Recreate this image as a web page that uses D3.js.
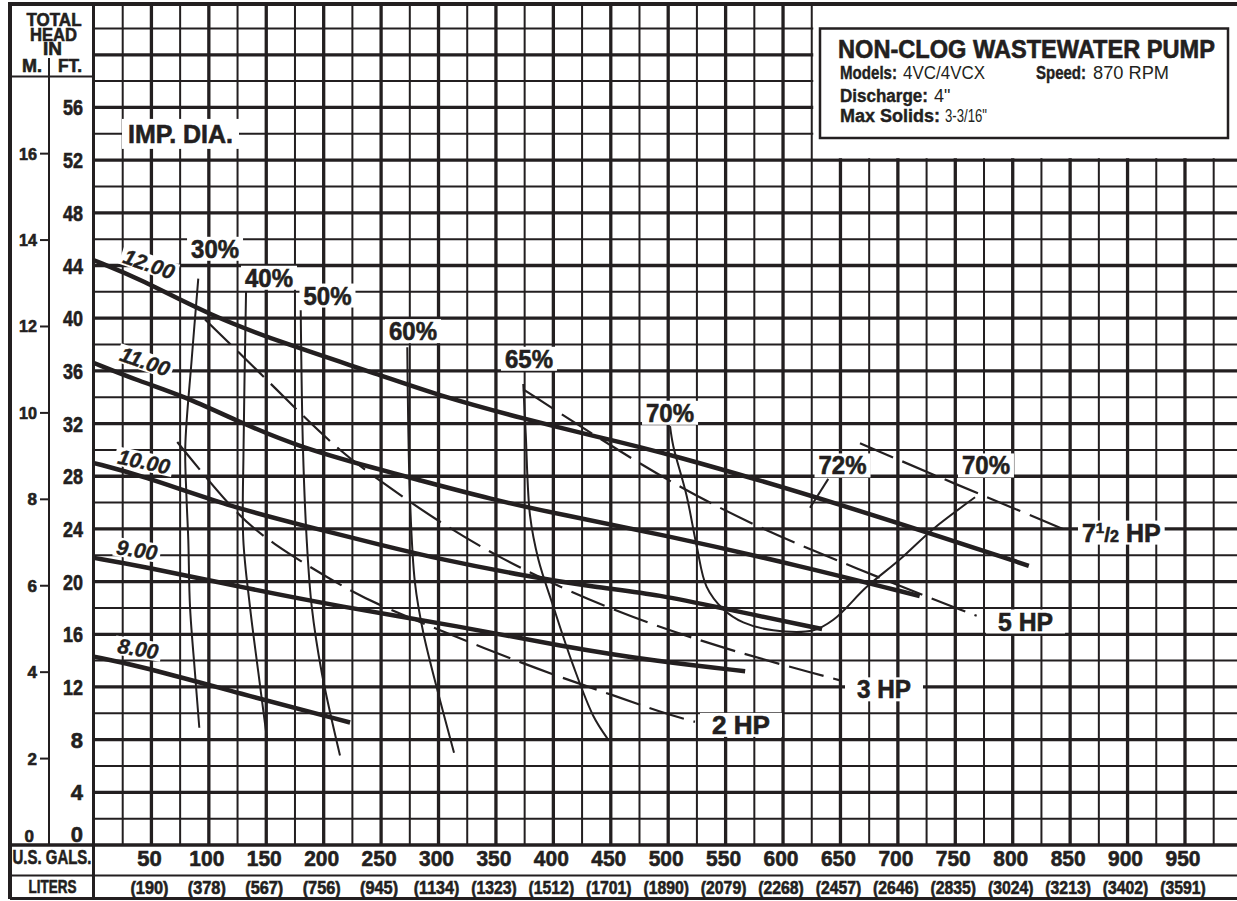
<!DOCTYPE html>
<html>
<head>
<meta charset="utf-8">
<script src="https://cdn.jsdelivr.net/npm/d3@7"></script>
<style>
  body { margin: 0; background: #fff; }
  svg { display: block; font-family: "Liberation Sans", Arial, Helvetica, sans-serif; }
</style>
</head>
<body>
<div id="chart"></div>
<script>
// values: flow in US gallons per minute, head in feet
const galTicks = [50, 100, 150, 200, 250, 300, 350, 400, 450, 500, 550, 600, 650, 700, 750, 800, 850, 900, 950];
const literLabels = ["(190)", "(378)", "(567)", "(756)", "(945)", "(1134)", "(1323)", "(1512)", "(1701)", "(1890)",
  "(2079)", "(2268)", "(2457)", "(2646)", "(2835)", "(3024)", "(3213)", "(3402)", "(3591)"];
const ftTicks = [0, 4, 8, 12, 16, 20, 24, 28, 32, 36, 40, 44, 48, 52, 56];
const meterTicks = [0, 2, 4, 6, 8, 10, 12, 14, 16];

// impeller diameter curves
const imp12 = [[0, 44.4], [40, 43.0], [101, 40.2], [168, 38.0], [249, 35.7], [301, 34.1], [377, 32.3], [435, 31.05], [493, 29.9], [650, 25.9], [814, 21.2]];
const imp11 = [[0, 36.6], [40, 35.2], [78, 34.1], [127, 32.1], [179, 30.2], [249, 28.5], [275, 27.9], [348, 26.2], [406, 25.1], [493, 23.6], [615, 21.2], [719, 18.9]];
const imp10 = [[0, 29.0], [40, 28.1], [118, 25.7], [185, 24.2], [249, 22.8], [301, 21.7], [377, 20.4], [435, 19.6], [493, 19.0], [551, 17.9], [634, 16.4]];
const imp9 = [[0, 21.8], [40, 21.2], [127, 19.6], [214, 18.1], [319, 16.6], [406, 15.1], [493, 13.9], [567, 13.2]];
const imp8 = [[0, 14.3], [40, 13.6], [127, 11.5], [223, 9.3]];
const impNames = ["12.00", "11.00", "10.00", "9.00", "8.00"];

// efficiency curves
const eff30 = [[90.8, 43.0], [85.1, 36.9], [79.5, 30.3], [80.5, 26.5], [82.1, 23.2], [83.6, 18.1], [87.9, 13.1], [91.7, 8.9]];
const eff40 = [[132.4, 42.0], [130.2, 30.0], [130.0, 23.2], [135.8, 18.1], [143.1, 13.1], [150.6, 8.1]];
const eff50 = [[180, 40.6], [182, 30.0], [185.2, 23.2], [189.6, 18.1], [198.3, 13.1], [214.2, 6.8]];
const eff60 = [[272.8, 37.8], [275.2, 26.2], [279.5, 19.9], [286.8, 16.1], [301.3, 11.0], [313.5, 7.0]];
const eff65 = [[373.8, 35.0], [375.9, 31.3], [379.7, 25.0], [386.9, 21.7], [400, 18.1], [417.4, 13.6], [434.8, 9.8], [447, 8.1]];
const eff70 = [[501.6, 31.8], [504.4, 30.3], [516.1, 26.5], [524.8, 22.7], [533.5, 19.6], [548, 17.9], [565.4, 16.9], [591.5, 16.3],
  [626.4, 16.3], [643.8, 17.1], [672.9, 19.6], [701.9, 21.7], [730.8, 24.0], [767.2, 26.4]];
const eff72 = [[639.4, 27.8], [623.5, 25.6]];
const effNames = ["30%", "40%", "50%", "60%", "65%", "70%", "72%", "70%"];

// horsepower lines (dashed)
const hp2 = [[72.5, 30.6], [119.9, 25.5], [150.4, 23.1], [225.8, 19.1], [262.1, 17.7], [376.8, 13.6], [458, 11.2], [492.9, 10.1], [523.3, 9.35]];
const hp3 = [[96.7, 39.9], [147.4, 35.6], [177, 33.0], [214.2, 29.9], [246.2, 27.8], [343.4, 21.9], [492.9, 16.2], [649.6, 12.5]];
const hp5 = [[373.8, 34.6], [439.1, 30.9], [510.3, 27.1], [585.8, 23.8], [664.1, 21.0], [741, 18.3], [768.6, 17.4]];
const hp75 = [[667, 30.5], [736.7, 27.9], [813.6, 25.1], [851.4, 23.7]];
const hpNames = ["2 HP", "3 HP", "5 HP"];

const W = 1237, H = 901;
const ink = "#231f20";
const FT_PER_M = 3.28084;

const x = d3.scaleLinear().domain([0, 1000]).range([94, 1242.4]);
const y = d3.scaleLinear().domain([0, 64]).range([845, 2.1]);

const svg = d3.select("#chart").append("svg")
  .attr("width", W)
  .attr("height", H);

svg.append("rect").attr("width", W).attr("height", H).attr("fill", "#fff");

// heavy condensed look: bold + thin outline, squeezed to the measured width
function heavy(sel, len) {
  sel.attr("stroke", ink).attr("stroke-width", 0.6);
  if (len) sel.attr("textLength", len).attr("lengthAdjust", "spacingAndGlyphs");
  return sel;
}

function drawGrid() {
  const g = svg.append("g").attr("stroke", ink);
  g.selectAll("line.v")
    .data(d3.range(25, 1000, 25))
    .join("line")
    .attr("class", "v")
    .attr("x1", d => x(d)).attr("x2", d => x(d))
    .attr("y1", 4).attr("y2", 845)
    .attr("stroke-width", d => d % 50 === 0 ? 3.3 : 2);
  g.selectAll("line.h")
    .data(d3.range(2, 64, 2))
    .join("line")
    .attr("class", "h")
    .attr("x1", 93).attr("x2", W)
    .attr("y1", d => y(d)).attr("y2", d => y(d))
    .attr("stroke-width", d => d % 4 === 0 ? 3.3 : 2);

  // blank corner behind the title box
  svg.append("rect")
    .attr("x", x(625) + 1.5).attr("y", 6)
    .attr("width", W - x(625)).attr("height", y(52) - 8)
    .attr("fill", "#fff");
}

function drawFrame() {
  const g = svg.append("g").attr("stroke", ink).attr("fill", "none");
  const seg = (x1, y1, x2, y2, w) => g.append("line")
    .attr("x1", x1).attr("y1", y1).attr("x2", x2).attr("y2", y2).attr("stroke-width", w);
  seg(10, 4, W, 4, 4);          // top border
  seg(10, 2, 10, 899, 4);       // left border
  seg(10, 898.5, W, 898.5, 3);  // bottom border
  seg(93.5, 2, 93.5, 899, 3);   // axis column edge
  seg(49, 58, 49, 845, 2);      // M. / FT. split
  seg(10, 76.5, 93, 76.5, 2);   // header box
  seg(10, 845, W, 845, 3.3);    // zero line
  seg(10, 875.5, W, 875.5, 2);  // gallons / liters split
}

function drawAxes() {
  const g = svg.append("g").attr("fill", ink).attr("font-weight", "bold");

  // header
  const head = g.append("g").attr("text-anchor", "middle").attr("font-size", 18);
  heavy(head.append("text").attr("x", 54).attr("y", 26), 55).text("TOTAL");
  heavy(head.append("text").attr("x", 53.5).attr("y", 40.5), 47).text("HEAD");
  heavy(head.append("text").attr("x", 52.5).attr("y", 55), 19).text("IN");
  heavy(head.append("text").attr("x", 32).attr("y", 71.5), 20).text("M.");
  heavy(head.append("text").attr("x", 70).attr("y", 71.5), 24).text("FT.");

  // feet
  g.append("g").attr("text-anchor", "end").attr("font-size", 22)
    .selectAll("text")
    .data(ftTicks)
    .join("text")
    .attr("x", 83)
    .attr("y", d => d === 0 ? 842 : y(d) + 8)
    .each(function (d) { heavy(d3.select(this), d >= 10 ? 20 : 0); })
    .text(d => d);

  // meters
  const m = g.append("g").attr("font-size", 17);
  m.selectAll("text")
    .data(meterTicks)
    .join("text")
    .attr("text-anchor", "end")
    .attr("x", d => d === 0 ? 34 : 37)
    .attr("y", d => d === 0 ? 842 : y(d * FT_PER_M) + 6)
    .each(function (d) { heavy(d3.select(this), d >= 10 ? 18 : 0); })
    .text(d => d);
  m.selectAll("line")
    .data(meterTicks.filter(d => d > 0))
    .join("line")
    .attr("x1", 40).attr("x2", 49)
    .attr("y1", d => y(d * FT_PER_M)).attr("y2", d => y(d * FT_PER_M))
    .attr("stroke", ink).attr("stroke-width", 2);

  // flow rows
  heavy(g.append("text").attr("x", 52).attr("y", 864).attr("text-anchor", "middle").attr("font-size", 21), 79)
    .text("U.S. GALS.");
  heavy(g.append("text").attr("x", 52.5).attr("y", 893).attr("text-anchor", "middle").attr("font-size", 19), 48)
    .text("LITERS");
  g.append("g").attr("text-anchor", "middle").attr("font-size", 22)
    .selectAll("text")
    .data(galTicks)
    .join("text")
    .attr("x", d => x(d) - 2)
    .attr("y", 866)
    .each(function (d) { heavy(d3.select(this), d >= 100 ? 35 : 0); })
    .text(d => d);
  g.append("g").attr("text-anchor", "middle").attr("font-size", 18)
    .selectAll("text")
    .data(galTicks)
    .join("text")
    .attr("x", d => x(d) - 2)
    .attr("y", 894)
    .each(function (d, i) { heavy(d3.select(this), literLabels[i].length * 7.6); })
    .text((d, i) => literLabels[i]);
}

function drawCurves() {
  const smooth = d3.line()
    .x(d => x(d[0]))
    .y(d => y(d[1]))
    .curve(d3.curveBasis);
  const through = d3.line()
    .x(d => x(d[0]))
    .y(d => y(d[1]))
    .curve(d3.curveCatmullRom.alpha(0.5));
  const g = svg.append("g").attr("fill", "none").attr("stroke", ink);

  g.selectAll("path.imp")
    .data([imp12, imp11, imp10, imp9, imp8])
    .join("path")
    .attr("class", "imp")
    .attr("d", smooth)
    .attr("stroke-width", 4.5);

  g.selectAll("path.eff")
    .data([eff30, eff40, eff50, eff60, eff65, eff70, eff72])
    .join("path")
    .attr("class", "eff")
    .attr("d", through)
    .attr("stroke-width", 2);

  g.selectAll("path.hp")
    .data([hp2, hp3, hp5, hp75])
    .join("path")
    .attr("class", "hp")
    .attr("d", smooth)
    .attr("stroke-width", 2.2)
    .attr("stroke-dasharray", "36,10");
}

// text with a white plate behind it
function plate(g, cx, cy, rot, padX, padY) {
  const grp = g.append("g").attr("transform", `translate(${cx},${cy}) rotate(${rot})`);
  const rect = grp.append("rect").attr("fill", "#fff");
  const t = grp.append("text").attr("dy", "0.35em").attr("fill", ink)
    .attr("stroke", ink).attr("stroke-width", 0.6);
  return {
    text: t,
    fit() {
      const bb = t.node().getBBox();
      rect.attr("x", bb.x - padX).attr("y", bb.y - padY + 2)
        .attr("width", bb.width + padX * 2).attr("height", bb.height + padY * 2 - 4);
    }
  };
}

function drawLabels() {
  const g = svg.append("g").attr("font-weight", "bold");

  // IMP. DIA.
  const imp = plate(g, x(29.6), y(54.0), 0, 6, 2);
  imp.text.attr("font-size", 26).attr("textLength", 105).attr("lengthAdjust", "spacingAndGlyphs").text("IMP. DIA.");
  imp.fit();

  const impSpots = [[47.9, 44.1, 19], [44.4, 36.7, 19], [43.5, 29.1, 12], [37.4, 22.4, 9], [38.3, 14.9, 9]];
  impNames.forEach((name, i) => {
    const s = impSpots[i];
    const p = plate(g, x(s[0]), y(s[1]), s[2], 3, 0);
    p.text.attr("text-anchor", "middle").attr("font-size", 21).attr("font-style", "italic")
      .attr("stroke-width", 0.4).text(name);
    p.fit();
  });

  const effSpots = [[105.4, 45.25], [152.4, 43.05], [203.3, 41.7], [277.8, 39.0], [378.8, 36.9], [501.6, 32.8], [651.8, 28.8], [776.7, 28.8]];
  effNames.forEach((name, i) => {
    const s = effSpots[i];
    const p = plate(g, x(s[0]), y(s[1]), 0, 4, 0);
    p.text.attr("text-anchor", "middle").attr("font-size", 25)
      .attr("textLength", 48).attr("lengthAdjust", "spacingAndGlyphs").text(name);
    p.fit();
  });

  const hpSpots = [[538.1, 9.1], [664.4, 11.8], [787.2, 16.95]];
  const hpLens = [58, 54, 55];
  hpNames.forEach((name, i) => {
    const s = hpSpots[i];
    const p = plate(g, x(s[0]), y(s[1]), 0, 12, 0);
    p.text.attr("font-size", 25).attr("textLength", hpLens[i]).attr("lengthAdjust", "spacingAndGlyphs").text(name);
    p.fit();
  });

  // 7 1/2 HP with a built-up fraction
  const big = plate(g, x(860.3), y(23.7), 0, 4, 0);
  big.text.attr("font-size", 25);
  big.text.append("tspan").text("7");
  big.text.append("tspan").attr("font-size", 15).attr("dy", -9).text("1");
  big.text.append("tspan").attr("font-size", 21).attr("dy", 9).text("/");
  big.text.append("tspan").attr("font-size", 16).text("2");
  big.text.append("tspan").text(" HP");
  big.fit();
}

function drawTitle() {
  const g = svg.append("g").attr("fill", ink);
  g.append("rect")
    .attr("x", 820).attr("y", 28.5).attr("width", 408).attr("height", 109.5)
    .attr("fill", "#fff").attr("stroke", ink).attr("stroke-width", 2.5);
  heavy(g.append("text").attr("x", 838).attr("y", 57.5)
    .attr("font-size", 25).attr("font-weight", "bold"), 377)
    .text("NON-CLOG WASTEWATER PUMP");

  const rows = [
    ["Models:", 840, 79, 57, "4VC/4VCX", 903, 82],
    ["Speed:", 1036, 79, 50, "870 RPM", 1093, 76],
    ["Discharge:", 840, 101.5, 88, "4\"", 934, 0],
    ["Max Solids:", 840, 122, 100, "3-3/16\"", 945, 42]
  ];
  rows.forEach(r => {
    heavy(g.append("text").attr("x", r[1]).attr("y", r[2]).attr("font-size", 18).attr("font-weight", "bold"), r[3])
      .attr("stroke-width", 0.4).text(r[0]);
    const v = g.append("text").attr("x", r[5]).attr("y", r[2]).attr("font-size", 18).text(r[4]);
    if (r[6]) v.attr("textLength", r[6]).attr("lengthAdjust", "spacingAndGlyphs");
  });
}

drawGrid();
drawCurves();
drawLabels();
drawFrame();
drawAxes();
drawTitle();
</script>
</body>
</html>
